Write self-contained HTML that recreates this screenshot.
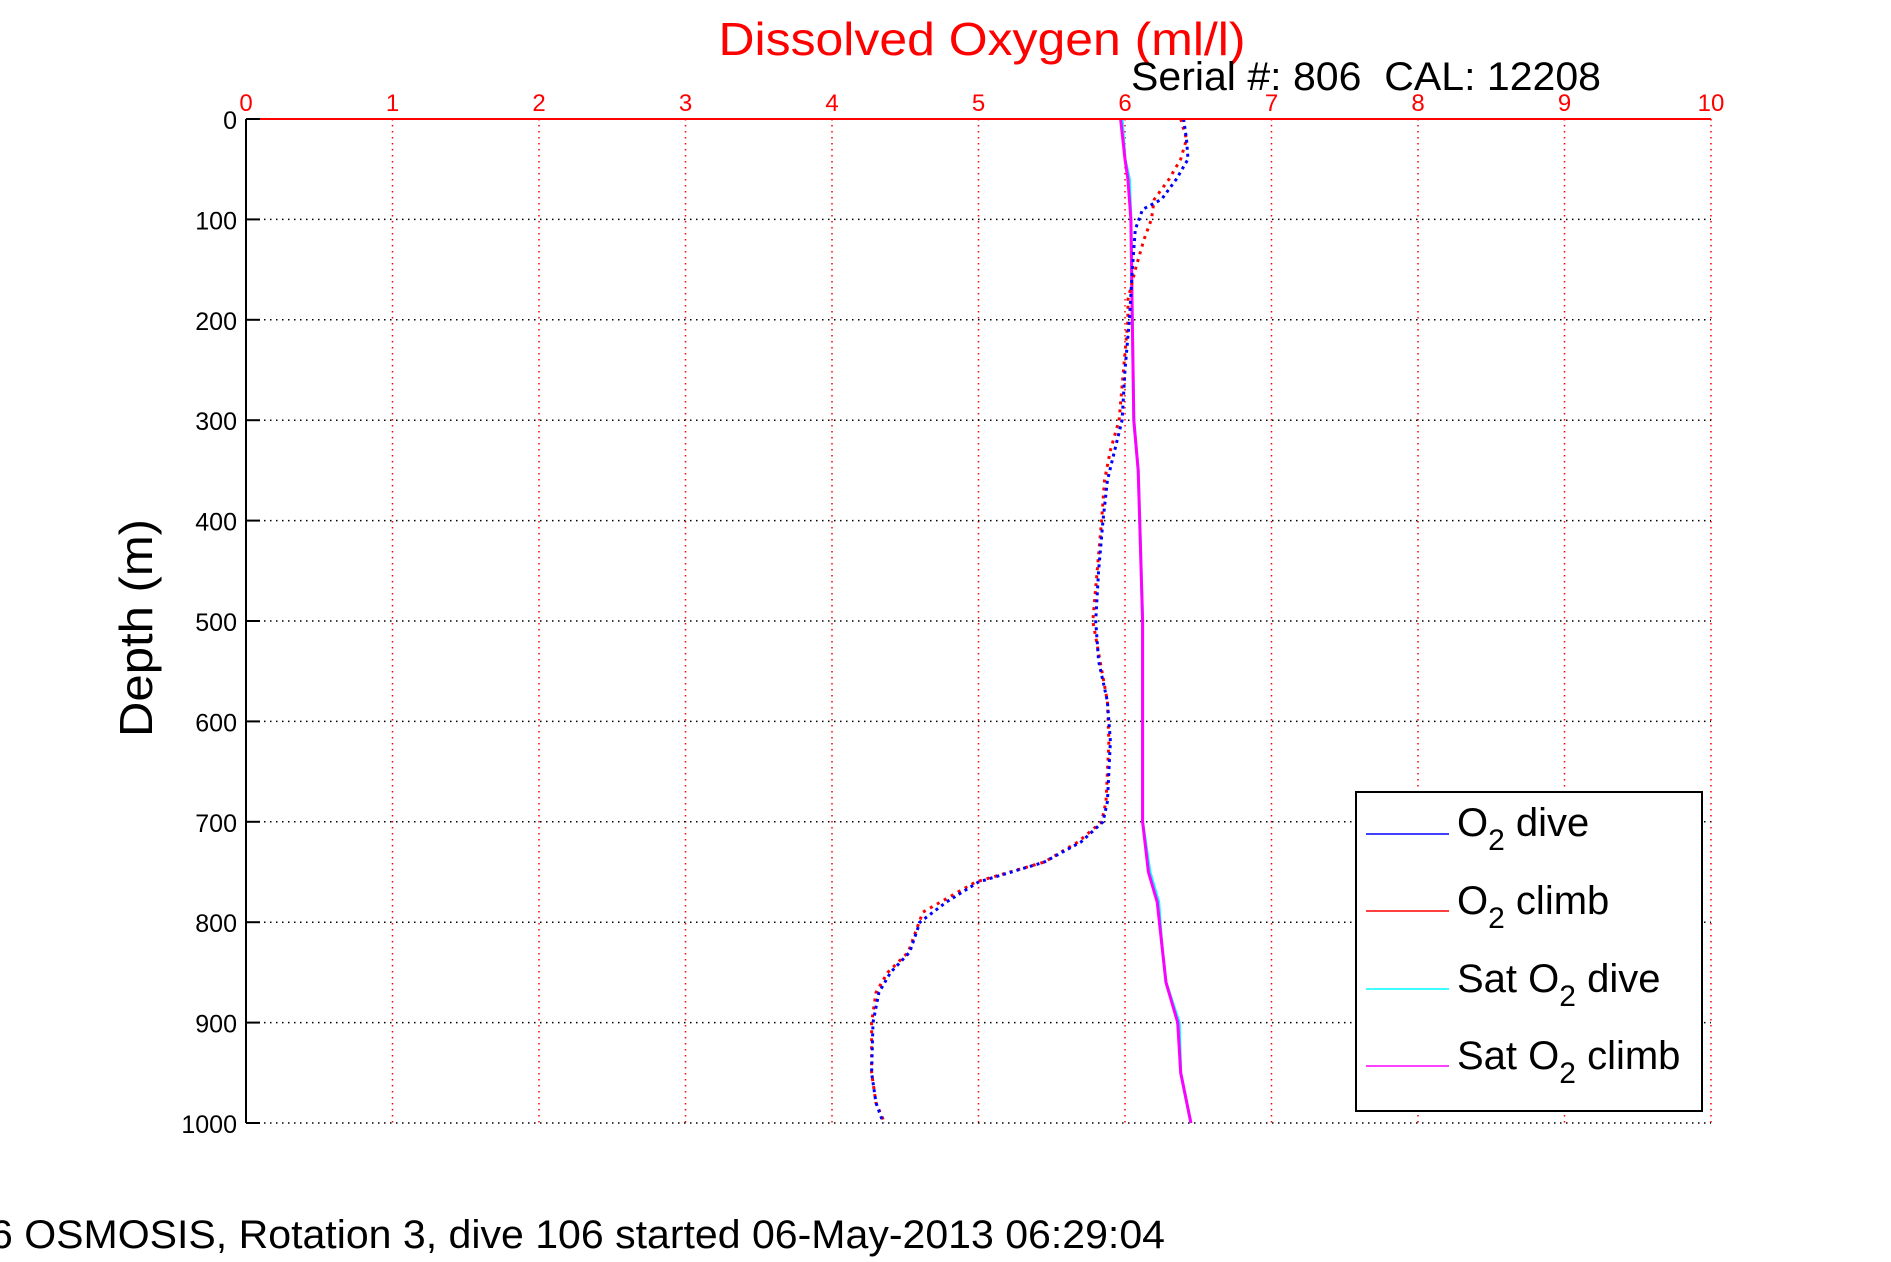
<!DOCTYPE html>
<html><head><meta charset="utf-8"><style>
html,body{margin:0;padding:0;background:#fff;}
svg{display:block;font-family:"Liberation Sans",sans-serif;}
</style></head><body>
<svg id="chart" width="1891" height="1262" viewBox="0 0 1891 1262" xmlns="http://www.w3.org/2000/svg">
<rect width="1891" height="1262" fill="#fff"/>
<g id="grid"></g>
<g id="series"></g>
<line x1="246" y1="119" x2="246" y2="1123" stroke="#000" stroke-width="2"/>
<line x1="246" y1="119" x2="1711" y2="119" stroke="#f00" stroke-width="2"/>
<g id="ticks"></g>
<text x="982" y="55" fill="#f00" font-size="46" text-anchor="middle" textLength="527" lengthAdjust="spacingAndGlyphs">Dissolved Oxygen (ml/l)</text>
<text x="1131" y="90" fill="#000" font-size="40" textLength="470" lengthAdjust="spacingAndGlyphs" xml:space="preserve">Serial #: 806  CAL: 12208</text>
<text transform="translate(152,628) rotate(-90)" fill="#000" font-size="46" text-anchor="middle" textLength="218" lengthAdjust="spacingAndGlyphs">Depth (m)</text>
<text x="-10" y="1248" fill="#000" font-size="40" textLength="1175" lengthAdjust="spacingAndGlyphs">6 OSMOSIS, Rotation 3, dive 106 started 06-May-2013 06:29:04</text>
<g>
<rect x="1356" y="792" width="346" height="319" fill="#fff" stroke="#000" stroke-width="2"/>
<g><line x1="1366" y1="834" x2="1449" y2="834" stroke="#00f" stroke-width="1.5"/><text x="1457" y="836" font-size="40">O<tspan font-size="30" dy="14">2</tspan><tspan dy="-14"> dive</tspan></text></g>
<g><line x1="1366" y1="911" x2="1449" y2="911" stroke="#f00" stroke-width="1.5"/><text x="1457" y="914" font-size="40">O<tspan font-size="30" dy="14">2</tspan><tspan dy="-14"> climb</tspan></text></g>
<g><line x1="1366" y1="989" x2="1449" y2="989" stroke="#0ff" stroke-width="1.5"/><text x="1457" y="992" font-size="40">Sat O<tspan font-size="30" dy="14">2</tspan><tspan dy="-14"> dive</tspan></text></g>
<g><line x1="1366" y1="1066" x2="1449" y2="1066" stroke="#f0f" stroke-width="1.5"/><text x="1457" y="1069" font-size="40">Sat O<tspan font-size="30" dy="14">2</tspan><tspan dy="-14"> climb</tspan></text></g>
</g>
</svg>
<script>
const xTicks = [0,1,2,3,4,5,6,7,8,9,10];
const yTicks = [0,100,200,300,400,500,600,700,800,900,1000];
const diveDepth = [0,20,40,60,80,90,110,150,200,250,300,330,360,400,450,500,540,580,620,680,700,720,740,760,780,800,830,850,870,900,950,980,1000];
const diveO2 = [6.4,6.42,6.43,6.35,6.25,6.12,6.07,6.05,6.03,6.0,5.98,5.93,5.88,5.85,5.82,5.8,5.82,5.88,5.9,5.88,5.85,5.7,5.45,5.0,4.78,4.6,4.53,4.4,4.32,4.28,4.27,4.3,4.35];
const climbDepth = [0,20,40,60,80,100,120,150,180,200,250,300,330,360,400,450,500,540,580,620,680,700,720,740,760,790,830,850,870,900,950,980,1000];
const climbO2 = [6.38,6.42,6.38,6.3,6.2,6.18,6.13,6.07,6.02,6.02,5.99,5.96,5.9,5.86,5.84,5.81,5.78,5.83,5.88,5.89,5.87,5.84,5.68,5.45,4.98,4.62,4.52,4.38,4.3,4.27,4.27,4.3,4.36];
const satDepth = [0,40,60,100,200,300,350,400,500,600,700,750,780,820,860,900,950,1000];
const satDive = [5.98,6.0,6.03,6.04,6.05,6.06,6.09,6.1,6.12,6.12,6.12,6.17,6.23,6.25,6.28,6.37,6.38,6.45];
const satClimb = [5.97,6.0,6.02,6.04,6.05,6.06,6.09,6.1,6.12,6.12,6.12,6.16,6.22,6.25,6.28,6.36,6.38,6.45];

const L=246,R=1711,T=119,B=1123;
const xs = v => L + (v-0)/(10-0)*(R-L);
const ys = d => T + (d-0)/(1000-0)*(B-T);
const NS="http://www.w3.org/2000/svg";
const grid=document.getElementById('grid'), ticks=document.getElementById('ticks'), series=document.getElementById('series');
function mk(tag, attrs, parent){const e=document.createElementNS(NS,tag);for(const k in attrs)e.setAttribute(k,attrs[k]);parent.appendChild(e);return e;}
xTicks.forEach(v=>{
  const g=mk('line',{x1:xs(v),y1:T,x2:xs(v),y2:B,stroke:'#f00','stroke-width':1.5,'stroke-dasharray':'1.5 4.5'},grid);
  
  
  const t=mk('text',{x:xs(v),y:111,fill:'#f00','font-size':24,'text-anchor':'middle'},ticks);
  t.textContent=v;
  
  
});
yTicks.forEach(d=>{
  const g=mk('line',{x1:L,y1:ys(d),x2:R,y2:ys(d),stroke:'#000','stroke-width':1.5,'stroke-dasharray':'1.5 4.5'},grid);
  
  
  const tk=mk('line',{x1:L,y1:ys(d),x2:L+14,y2:ys(d),stroke:'#000','stroke-width':2},ticks);
  
  
  const t=mk('text',{x:237,y:ys(d)+10,fill:'#000','font-size':25,'text-anchor':'end'},ticks);
  t.textContent=d;
  
  
});
function line(depths, vals, color, dash, name){
  const pts=depths.map((d,i)=>xs(vals[i]).toFixed(1)+','+ys(d).toFixed(1)).join(' ');
  const attrs={points:pts,fill:'none',stroke:color,'stroke-width':3};
  if(dash) attrs['stroke-dasharray']=dash;
  const p=mk('polyline',attrs,series);
  
  
}
line(satDepth,satDive,'#0ff',null,'sat-o2-dive-line');
line(satDepth,satClimb,'#f0f',null,'sat-o2-climb-line');
line(climbDepth,climbO2,'#f00','3 5','o2-climb-line');
line(diveDepth,diveO2,'#00f','3 4','o2-dive-line');
</script>
</body></html>
